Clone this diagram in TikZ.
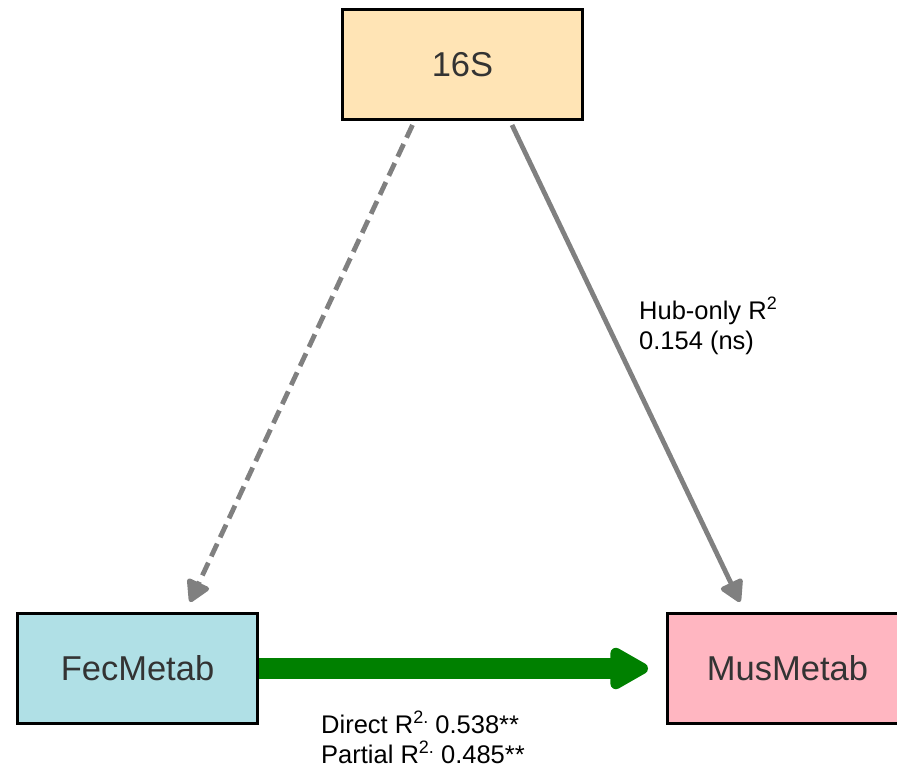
\documentclass[tikz,border=0pt]{standalone}
\usepackage{fontspec}
\setmainfont{Liberation Sans}
\usetikzlibrary{arrows.meta,calc}
\definecolor{boxorange}{HTML}{FFE4B5}
\definecolor{boxblue}{HTML}{B0E0E6}
\definecolor{boxpink}{HTML}{FFB6C1}
\definecolor{edgegray}{HTML}{808080}
\definecolor{edgegreen}{HTML}{008000}
\definecolor{txtgray}{HTML}{333333}
\newcommand{\supr}[1]{\raisebox{0.38em}{\fontsize{18}{18}\selectfont #1}}
\tikzset{
  varbox/.style={draw=black, line width=3pt, minimum width=240pt, minimum height=110pt,
    inner sep=0pt, text=txtgray, font=\fontsize{34.5}{38}\selectfont},
  grayedge/.style={draw=edgegray, line width=4.8pt,
    -{Triangle[length=24pt,width=26pt,round]}},
  lbl/.style={align=left, anchor=west, inner sep=0pt, font=\fontsize{25.5}{30}\selectfont}
}
\begin{document}
\begin{tikzpicture}[x=1pt,y=1pt]
\clip (0,0) rectangle (897,-773);
\node[varbox, fill=boxorange] (s) at (462.5,-64.5) {16S};
\node[varbox, fill=boxblue] (f) at (137.5,-668.5) {FecMetab};
\node[varbox, fill=boxpink] (m) at (787.5,-668.5) {MusMetab};
\draw[grayedge, dash pattern=on 14pt off 7pt] ([xshift=-50pt,yshift=-4pt]s.south) -- ([xshift=52.5pt,yshift=10pt]f.north);
\draw[grayedge] ([xshift=49.5pt,yshift=-4pt]s.south) -- ([xshift=-47.5pt,yshift=10pt]m.north);
\draw[edgegreen, line width=21pt, -{Triangle[length=44pt,width=46pt,round]}] (f.east) -- ([xshift=-18pt]m.west);
\node[lbl] (h) at (639,-326) {Hub-only R\supr{2}\\0.154 (ns)};
\node[lbl] (d) at (321,-737) {Direct R\supr{2.} 0.538**\\Partial R\supr{2.} 0.485**};
\end{tikzpicture}
\end{document}
